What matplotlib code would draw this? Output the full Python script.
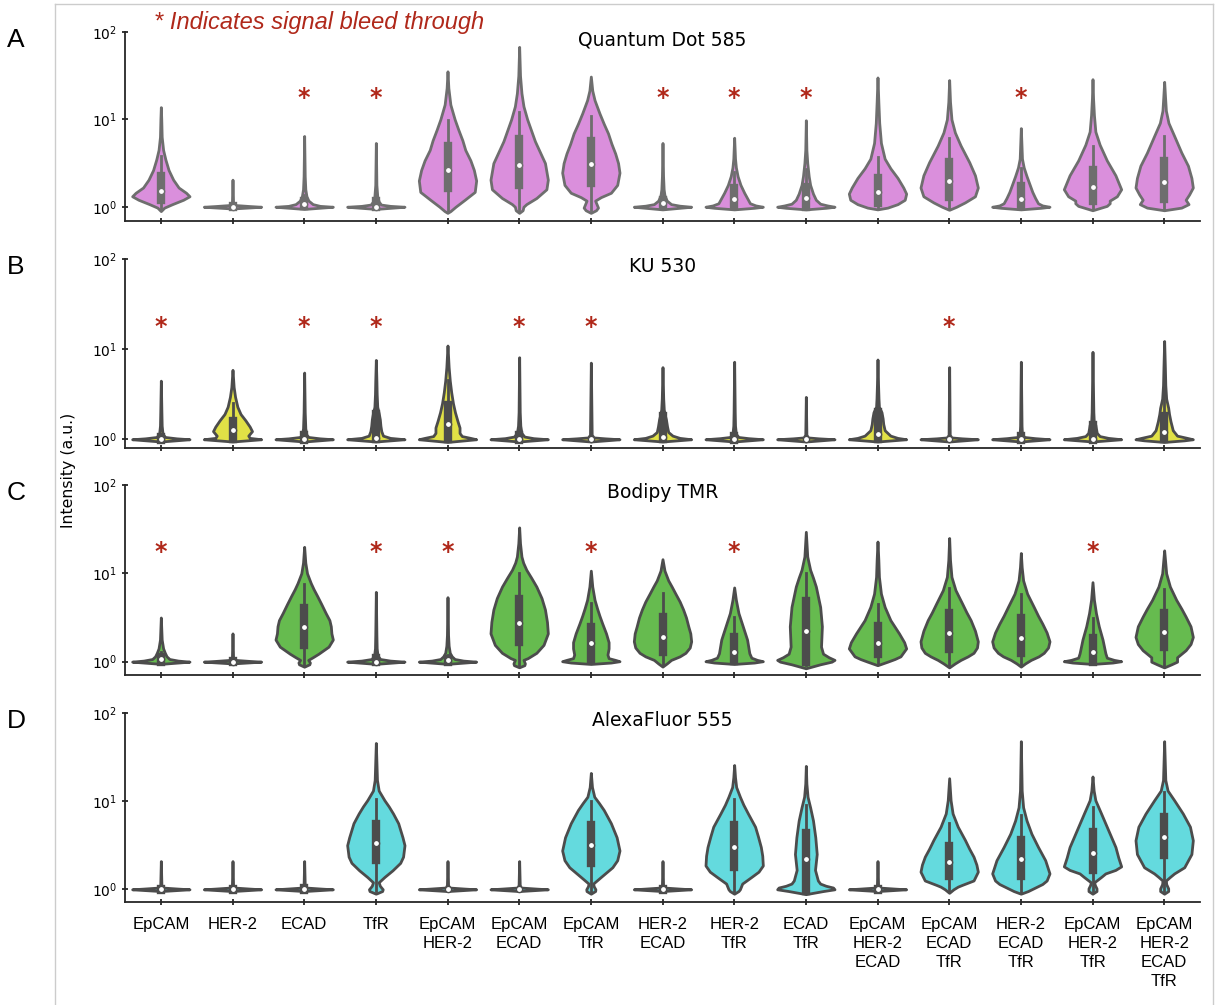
import matplotlib
matplotlib.use("Agg")
import matplotlib.pyplot as plt
import numpy as np
from matplotlib.lines import Line2D
from matplotlib.ticker import NullLocator

categories = ["EpCAM", "HER-2", "ECAD", "TfR", "EpCAM\nHER-2", "EpCAM\nECAD", "EpCAM\nTfR",
              "HER-2\nECAD", "HER-2\nTfR", "ECAD\nTfR", "EpCAM\nHER-2\nECAD", "EpCAM\nECAD\nTfR",
              "HER-2\nECAD\nTfR", "EpCAM\nHER-2\nTfR", "EpCAM\nHER-2\nECAD\nTfR"]
dyes = ["Quantum Dot 585", "KU 530", "Bodipy TMR", "AlexaFluor 555"]
letters = ["A", "B", "C", "D"]
fills = ["#da8fdc", "#e1e146", "#66bb4f", "#64dade"]
edges = ["#6e6e6e", "#4c4c4c", "#4c4c4c", "#4c4c4c"]
bleed = [[2, 3, 7, 8, 9, 12], [0, 2, 3, 5, 6, 11], [0, 3, 4, 6, 8, 13], []]
ybottom = [10 ** -0.163, 10 ** -0.097, 10 ** -0.151, 10 ** -0.144]

# violin outlines: (log10 intensity, relative half width)
shapes_qd = [
    [(-0.05, 0), (-0.01, 0.12), (0.03, 0.4), (0.08, 0.78), (0.12, 1.0), (0.16, 0.88), (0.22, 0.62), (0.31, 0.43), (0.42, 0.27), (0.54, 0.16), (0.65, 0.08), (0.8, 0.03), (1.0, 0.015), (1.14, 0)],
    [(-0.02, 0), (-0.008, 0.6), (0, 1.0), (0.008, 0.6), (0.02, 0.08), (0.05, 0.02), (0.31, 0)],
    [(-0.025, 0), (-0.01, 0.6), (0, 1.0), (0.01, 0.55), (0.03, 0.3), (0.07, 0.15), (0.12, 0.08), (0.2, 0.04), (0.35, 0.02), (0.81, 0)],
    [(-0.025, 0), (-0.01, 0.6), (0, 1.0), (0.01, 0.5), (0.025, 0.18), (0.06, 0.1), (0.12, 0.05), (0.25, 0.02), (0.73, 0)],
    [(-0.07, 0), (-0.05, 0.1), (0, 0.28), (0.08, 0.6), (0.17, 0.95), (0.3, 1.0), (0.42, 0.92), (0.53, 0.8), (0.65, 0.62), (0.76, 0.52), (0.88, 0.38), (1.0, 0.25), (1.17, 0.1), (1.36, 0.03), (1.55, 0)],
    [(-0.07, 0), (-0.04, 0.12), (0, 0.15), (0.03, 0.25), (0.1, 0.6), (0.2, 0.95), (0.31, 1.0), (0.5, 0.9), (0.75, 0.55), (1.0, 0.28), (1.15, 0.15), (1.3, 0.08), (1.5, 0.03), (1.83, 0)],
    [(-0.07, 0), (-0.04, 0.18), (-0.01, 0.25), (0.03, 0.2), (0.07, 0.15), (0.11, 0.35), (0.16, 0.7), (0.25, 0.92), (0.39, 1.0), (0.5, 0.95), (0.61, 0.85), (0.72, 0.72), (0.84, 0.6), (0.95, 0.45), (1.07, 0.3), (1.22, 0.13), (1.33, 0.05), (1.49, 0)],
    [(-0.03, 0), (-0.012, 0.6), (0, 1.0), (0.012, 0.6), (0.03, 0.3), (0.07, 0.15), (0.13, 0.07), (0.2, 0.04), (0.35, 0.02), (0.73, 0)],
    [(-0.03, 0), (-0.012, 0.7), (0, 1.0), (0.015, 0.75), (0.04, 0.55), (0.1, 0.45), (0.16, 0.35), (0.25, 0.22), (0.35, 0.12), (0.45, 0.06), (0.55, 0.03), (0.79, 0)],
    [(-0.03, 0), (-0.012, 0.7), (0, 1.0), (0.015, 0.75), (0.035, 0.5), (0.08, 0.35), (0.15, 0.25), (0.25, 0.15), (0.35, 0.1), (0.5, 0.05), (0.65, 0.02), (0.99, 0)],
    [(-0.03, 0), (-0.01, 0.35), (0.03, 0.7), (0.08, 0.95), (0.15, 1.0), (0.22, 0.9), (0.33, 0.7), (0.44, 0.45), (0.55, 0.25), (0.73, 0.12), (0.96, 0.06), (1.2, 0.03), (1.48, 0)],
    [(-0.035, 0), (0, 0.25), (0.05, 0.55), (0.12, 0.9), (0.22, 1.0), (0.36, 0.9), (0.51, 0.7), (0.7, 0.4), (0.85, 0.2), (1.0, 0.08), (1.2, 0.03), (1.45, 0)],
    [(-0.03, 0), (-0.012, 0.7), (0, 1.0), (0.015, 0.75), (0.04, 0.6), (0.1, 0.5), (0.17, 0.4), (0.26, 0.3), (0.35, 0.2), (0.45, 0.1), (0.55, 0.04), (0.9, 0)],
    [(-0.04, 0), (-0.02, 0.2), (0.01, 0.5), (0.04, 0.6), (0.07, 0.6), (0.12, 0.85), (0.2, 1.0), (0.36, 0.8), (0.53, 0.5), (0.71, 0.25), (0.86, 0.1), (1.05, 0.05), (1.24, 0.02), (1.46, 0)],
    [(-0.04, 0), (-0.01, 0.6), (0.03, 0.85), (0.08, 0.75), (0.14, 0.87), (0.22, 1.0), (0.33, 0.95), (0.47, 0.83), (0.62, 0.6), (0.81, 0.35), (0.96, 0.15), (1.1, 0.06), (1.26, 0.03), (1.43, 0)],
]
shapes_ku = [
    [(-0.025, 0), (-0.01, 0.6), (0, 1.0), (0.01, 0.55), (0.025, 0.15), (0.06, 0.06), (0.15, 0.03), (0.3, 0.02), (0.65, 0)],
    [(-0.025, 0), (-0.01, 0.6), (0, 1.0), (0.015, 0.6), (0.04, 0.55), (0.09, 0.68), (0.14, 0.6), (0.21, 0.45), (0.28, 0.28), (0.36, 0.17), (0.47, 0.09), (0.58, 0.04), (0.77, 0)],
    [(-0.025, 0), (-0.01, 0.6), (0, 1.0), (0.01, 0.55), (0.025, 0.15), (0.05, 0.08), (0.12, 0.04), (0.3, 0.02), (0.74, 0)],
    [(-0.025, 0), (-0.01, 0.6), (0, 1.0), (0.015, 0.5), (0.04, 0.25), (0.09, 0.19), (0.15, 0.16), (0.22, 0.14), (0.29, 0.1), (0.36, 0.05), (0.5, 0.03), (0.65, 0.02), (0.88, 0)],
    [(-0.03, 0), (-0.012, 0.6), (0, 1.0), (0.015, 0.8), (0.035, 0.5), (0.07, 0.42), (0.13, 0.42), (0.2, 0.35), (0.3, 0.26), (0.4, 0.19), (0.52, 0.13), (0.65, 0.08), (0.8, 0.04), (1.04, 0)],
    [(-0.025, 0), (-0.01, 0.6), (0, 1.0), (0.012, 0.5), (0.03, 0.18), (0.07, 0.08), (0.15, 0.04), (0.3, 0.02), (0.91, 0)],
    [(-0.025, 0), (-0.01, 0.6), (0, 1.0), (0.01, 0.5), (0.02, 0.1), (0.05, 0.03), (0.85, 0)],
    [(-0.025, 0), (-0.01, 0.6), (0, 1.0), (0.015, 0.6), (0.04, 0.35), (0.08, 0.2), (0.14, 0.16), (0.22, 0.12), (0.27, 0.08), (0.33, 0.045), (0.45, 0.025), (0.8, 0)],
    [(-0.025, 0), (-0.01, 0.6), (0, 1.0), (0.012, 0.5), (0.025, 0.15), (0.06, 0.06), (0.15, 0.03), (0.3, 0.02), (0.86, 0)],
    [(-0.025, 0), (-0.01, 0.6), (0, 1.0), (0.01, 0.45), (0.02, 0.08), (0.05, 0.02), (0.47, 0)],
    [(-0.025, 0), (-0.01, 0.6), (0, 1.0), (0.015, 0.7), (0.04, 0.45), (0.1, 0.25), (0.17, 0.2), (0.23, 0.18), (0.3, 0.14), (0.36, 0.05), (0.45, 0.035), (0.6, 0.02), (0.885, 0)],
    [(-0.025, 0), (-0.01, 0.6), (0, 1.0), (0.01, 0.45), (0.02, 0.08), (0.05, 0.02), (0.8, 0)],
    [(-0.025, 0), (-0.01, 0.6), (0, 1.0), (0.012, 0.5), (0.025, 0.12), (0.06, 0.04), (0.15, 0.025), (0.86, 0)],
    [(-0.025, 0), (-0.01, 0.6), (0, 1.0), (0.015, 0.55), (0.035, 0.25), (0.07, 0.15), (0.12, 0.12), (0.16, 0.1), (0.2, 0.045), (0.3, 0.03), (0.5, 0.02), (0.97, 0)],
    [(-0.03, 0), (-0.012, 0.7), (0, 1.0), (0.015, 0.8), (0.04, 0.45), (0.1, 0.3), (0.2, 0.22), (0.28, 0.17), (0.35, 0.14), (0.45, 0.07), (0.6, 0.04), (0.8, 0.025), (1.09, 0)],
]
shapes_bodipy = [
    [(-0.025, 0), (-0.01, 0.6), (0, 1.0), (0.012, 0.6), (0.03, 0.3), (0.06, 0.2), (0.1, 0.14), (0.15, 0.08), (0.25, 0.03), (0.5, 0)],
    [(-0.02, 0), (-0.008, 0.6), (0, 1.0), (0.008, 0.6), (0.02, 0.08), (0.05, 0.02), (0.32, 0)],
    [(-0.057, 0), (-0.03, 0.18), (-0.01, 0.2), (0.02, 0.14), (0.05, 0.3), (0.09, 0.5), (0.17, 0.85), (0.25, 1.0), (0.32, 0.95), (0.4, 0.93), (0.47, 0.88), (0.55, 0.75), (0.65, 0.6), (0.74, 0.46), (0.82, 0.33), (0.89, 0.23), (1.0, 0.1), (1.12, 0.04), (1.3, 0)],
    [(-0.025, 0), (-0.01, 0.6), (0, 1.0), (0.012, 0.5), (0.03, 0.15), (0.07, 0.06), (0.15, 0.03), (0.3, 0.02), (0.79, 0)],
    [(-0.025, 0), (-0.01, 0.6), (0, 1.0), (0.012, 0.55), (0.03, 0.25), (0.06, 0.15), (0.1, 0.08), (0.18, 0.04), (0.3, 0.02), (0.73, 0)],
    [(-0.064, 0), (-0.04, 0.18), (-0.02, 0.2), (0.02, 0.15), (0.04, 0.3), (0.1, 0.6), (0.19, 0.85), (0.32, 1.0), (0.45, 0.97), (0.59, 0.9), (0.72, 0.78), (0.85, 0.6), (0.95, 0.42), (1.04, 0.25), (1.12, 0.14), (1.19, 0.08), (1.34, 0.03), (1.52, 0)],
    [(-0.026, 0), (-0.01, 0.7), (0.005, 1.0), (0.02, 0.85), (0.04, 0.62), (0.08, 0.58), (0.15, 0.62), (0.22, 0.62), (0.32, 0.53), (0.43, 0.4), (0.52, 0.3), (0.6, 0.22), (0.7, 0.13), (0.85, 0.05), (1.03, 0)],
    [(-0.056, 0), (-0.02, 0.15), (0.02, 0.3), (0.06, 0.6), (0.1, 0.8), (0.16, 0.95), (0.23, 1.0), (0.32, 0.97), (0.4, 0.9), (0.5, 0.82), (0.59, 0.72), (0.68, 0.6), (0.77, 0.45), (0.85, 0.32), (0.92, 0.2), (1.03, 0.07), (1.16, 0)],
    [(-0.026, 0), (-0.01, 0.7), (0.005, 1.0), (0.02, 0.8), (0.045, 0.6), (0.095, 0.53), (0.25, 0.45), (0.4, 0.3), (0.55, 0.15), (0.7, 0.06), (0.84, 0)],
    [(-0.075, 0), (-0.03, 0.5), (0.0, 0.9), (0.02, 1.0), (0.05, 0.8), (0.09, 0.6), (0.17, 0.53), (0.4, 0.56), (0.62, 0.5), (0.85, 0.35), (0.95, 0.25), (1.04, 0.15), (1.19, 0.05), (1.47, 0)],
    [(-0.04, 0), (0.0, 0.35), (0.03, 0.6), (0.06, 0.8), (0.15, 1.0), (0.22, 0.93), (0.32, 0.75), (0.47, 0.45), (0.62, 0.25), (0.77, 0.12), (0.96, 0.05), (1.15, 0.03), (1.36, 0)],
    [(-0.065, 0), (-0.02, 0.2), (0.02, 0.4), (0.06, 0.65), (0.1, 0.85), (0.16, 0.97), (0.23, 1.0), (0.35, 0.9), (0.47, 0.75), (0.56, 0.6), (0.66, 0.45), (0.81, 0.22), (0.96, 0.08), (1.15, 0.03), (1.4, 0)],
    [(-0.056, 0), (-0.02, 0.15), (0.02, 0.35), (0.06, 0.62), (0.1, 0.8), (0.16, 0.95), (0.23, 1.0), (0.33, 0.9), (0.43, 0.75), (0.52, 0.6), (0.62, 0.45), (0.77, 0.22), (0.92, 0.08), (1.07, 0.03), (1.23, 0)],
    [(-0.026, 0), (-0.01, 0.7), (0.005, 1.0), (0.02, 0.75), (0.045, 0.5), (0.095, 0.45), (0.25, 0.35), (0.4, 0.22), (0.55, 0.12), (0.7, 0.05), (0.9, 0)],
    [(-0.065, 0), (-0.03, 0.25), (0.0, 0.45), (0.05, 0.45), (0.09, 0.6), (0.13, 0.75), (0.2, 0.92), (0.28, 1.0), (0.4, 0.92), (0.51, 0.75), (0.6, 0.6), (0.7, 0.42), (0.85, 0.2), (1.0, 0.07), (1.15, 0.03), (1.26, 0)],
]
shapes_alexa = [
    [(-0.02, 0), (-0.008, 0.6), (0, 1.0), (0.008, 0.6), (0.02, 0.06), (0.05, 0.02), (0.32, 0)],
    [(-0.02, 0), (-0.008, 0.6), (0, 1.0), (0.008, 0.6), (0.02, 0.06), (0.05, 0.02), (0.32, 0)],
    [(-0.02, 0), (-0.008, 0.6), (0, 1.0), (0.008, 0.6), (0.02, 0.06), (0.05, 0.02), (0.32, 0)],
    [(-0.05, 0), (-0.02, 0.22), (0.0, 0.24), (0.04, 0.14), (0.08, 0.1), (0.14, 0.3), (0.215, 0.58), (0.3, 0.85), (0.37, 0.95), (0.5, 1.0), (0.59, 0.93), (0.75, 0.78), (0.86, 0.6), (0.94, 0.45), (1.01, 0.3), (1.12, 0.1), (1.24, 0.04), (1.66, 0)],
    [(-0.02, 0), (-0.008, 0.6), (0, 1.0), (0.008, 0.6), (0.02, 0.06), (0.05, 0.02), (0.32, 0)],
    [(-0.02, 0), (-0.008, 0.6), (0, 1.0), (0.008, 0.6), (0.02, 0.06), (0.05, 0.02), (0.32, 0)],
    [(-0.05, 0), (-0.02, 0.15), (0.0, 0.16), (0.035, 0.1), (0.065, 0.08), (0.14, 0.35), (0.25, 0.75), (0.33, 0.92), (0.44, 1.0), (0.59, 0.9), (0.75, 0.7), (0.9, 0.45), (0.98, 0.28), (1.05, 0.12), (1.16, 0.04), (1.32, 0)],
    [(-0.02, 0), (-0.008, 0.6), (0, 1.0), (0.008, 0.6), (0.02, 0.06), (0.05, 0.02), (0.32, 0)],
    [(-0.05, 0), (-0.02, 0.15), (0.0, 0.2), (0.065, 0.28), (0.14, 0.6), (0.2, 0.85), (0.27, 1.0), (0.38, 0.98), (0.48, 0.93), (0.6, 0.83), (0.71, 0.73), (0.86, 0.48), (0.96, 0.32), (1.05, 0.2), (1.16, 0.07), (1.27, 0.03), (1.41, 0)],
    [(-0.055, 0), (-0.02, 0.6), (0.0, 1.0), (0.02, 0.95), (0.04, 0.7), (0.065, 0.5), (0.1, 0.42), (0.22, 0.32), (0.4, 0.38), (0.59, 0.33), (0.78, 0.25), (0.93, 0.15), (1.05, 0.06), (1.2, 0.02), (1.4, 0)],
    [(-0.02, 0), (-0.008, 0.6), (0, 1.0), (0.008, 0.6), (0.02, 0.06), (0.05, 0.02), (0.32, 0)],
    [(-0.04, 0), (0.0, 0.15), (0.03, 0.3), (0.05, 0.45), (0.1, 0.85), (0.2, 1.0), (0.28, 0.95), (0.37, 0.85), (0.46, 0.7), (0.56, 0.55), (0.71, 0.3), (0.86, 0.12), (1.01, 0.05), (1.26, 0)],
    [(-0.05, 0), (-0.02, 0.25), (0.02, 0.5), (0.06, 0.75), (0.1, 0.9), (0.18, 1.0), (0.33, 0.85), (0.48, 0.6), (0.63, 0.37), (0.78, 0.2), (0.93, 0.08), (1.12, 0.03), (1.68, 0)],
    [(-0.05, 0), (-0.02, 0.14), (0.01, 0.14), (0.05, 0.08), (0.08, 0.06), (0.14, 0.3), (0.18, 0.45), (0.22, 0.8), (0.26, 1.0), (0.36, 0.9), (0.48, 0.8), (0.67, 0.55), (0.86, 0.3), (1.01, 0.1), (1.12, 0.04), (1.28, 0)],
    [(-0.05, 0), (-0.02, 0.14), (0.01, 0.14), (0.06, 0.07), (0.1, 0.06), (0.14, 0.2), (0.18, 0.35), (0.25, 0.7), (0.4, 0.95), (0.556, 1.0), (0.71, 0.9), (0.86, 0.65), (1.01, 0.35), (1.12, 0.12), (1.24, 0.04), (1.68, 0)],
]

# inner box: whisker low, q1, median, q3, whisker high
stats_qd = [(0.95, 1.18, 1.53, 2.22, 3.8), (0.98, 0.99, 1.0, 1.02, 1.05), (0.98, 1.01, 1.07, 1.15, 1.35),
            (0.98, 0.99, 1.0, 1.15, 1.35), (0.9, 1.65, 2.6, 4.9, 9.8), (0.9, 1.78, 2.97, 5.9, 12),
            (0.92, 1.88, 3.1, 5.6, 11), (0.97, 1.02, 1.1, 1.2, 1.45), (0.97, 1.05, 1.23, 1.65, 2.5),
            (0.97, 1.0, 1.27, 1.7, 2.7), (0.95, 1.1, 1.46, 2.15, 3.7), (0.95, 1.31, 1.95, 3.25, 6.1),
            (0.97, 1.05, 1.23, 1.75, 2.8), (0.95, 1.17, 1.69, 2.65, 4.9), (0.95, 1.23, 1.9, 3.3, 6.4)]
stats_ku = [(0.98, 0.98, 1.0, 1.05, 1.1), (0.97, 1.0, 1.26, 1.6, 2.5), (0.98, 0.98, 1.0, 1.12, 1.3),
            (0.98, 1.0, 1.04, 1.9, 3.0), (0.95, 1.0, 1.49, 2.4, 4.5), (0.98, 0.99, 1.0, 1.12, 1.3),
            (1.0, 1.0, 1.0, 1.0, 1.0), (0.98, 1.0, 1.07, 1.8, 2.6), (0.98, 0.98, 1.0, 1.1, 1.25),
            (1.0, 1.0, 1.0, 1.0, 1.0), (0.97, 1.0, 1.14, 2.0, 3.0), (1.0, 1.0, 1.0, 1.0, 1.0),
            (0.98, 0.98, 1.0, 1.08, 1.2), (0.98, 0.99, 1.0, 1.45, 2.0), (0.97, 1.0, 1.2, 1.8, 3.5)]
stats_bodipy = [(0.98, 1.0, 1.06, 1.12, 1.3), (0.98, 0.99, 1.0, 1.02, 1.05), (0.9, 1.55, 2.5, 4.0, 7.5),
                (0.98, 0.99, 1.0, 1.1, 1.25), (0.98, 1.0, 1.04, 1.08, 1.2), (0.9, 1.69, 2.76, 5.1, 10),
                (0.98, 1.07, 1.64, 2.5, 4.6), (0.92, 1.3, 1.92, 3.23, 6), (0.98, 1.02, 1.3, 1.89, 3.2),
                (0.92, 1.0, 2.24, 4.8, 10), (0.95, 1.21, 1.64, 2.56, 4.5), (0.92, 1.38, 2.13, 3.6, 6.9),
                (0.92, 1.24, 1.84, 3.1, 5.8), (0.98, 1.0, 1.29, 1.84, 3.1), (0.92, 1.48, 2.19, 3.6, 6.7)]
stats_alexa = [(0.99, 0.99, 1.0, 1.02, 1.05), (0.99, 0.99, 1.0, 1.02, 1.05), (0.99, 0.99, 1.0, 1.03, 1.05),
               (0.95, 2.14, 3.35, 5.5, 10.5), (1.0, 1.0, 1.0, 1.0, 1.0), (1.0, 1.0, 1.0, 1.0, 1.0),
               (0.95, 1.99, 3.16, 5.3, 10), (0.99, 0.99, 1.0, 1.02, 1.05), (0.95, 1.79, 3.0, 5.3, 10.5),
               (0.92, 0.96, 2.23, 4.3, 9), (0.99, 0.99, 1.0, 1.02, 1.05), (0.95, 1.41, 2.04, 3.1, 5.6),
               (0.93, 1.42, 2.23, 3.6, 6.9), (0.95, 1.67, 2.6, 4.47, 8.6), (0.95, 2.43, 3.9, 6.6, 12.8)]

all_shapes = [shapes_qd, shapes_ku, shapes_bodipy, shapes_alexa]
all_stats = [stats_qd, stats_ku, stats_bodipy, stats_alexa]

# axes boxes in pixels: top, bottom
row_px = [(32, 221), (259, 448), (485, 675), (713, 902)]
W, H = 1225, 1005
ink = "#262626"

fig = plt.figure(figsize=(W / 100, H / 100), dpi=100)

# light frame around the figure
fig.add_artist(Line2D([55 / W, 55 / W], [0, 1 - 4 / H], color="#cccccc", lw=1))
fig.add_artist(Line2D([55 / W, 1213 / W], [1 - 4 / H, 1 - 4 / H], color="#cccccc", lw=1))
fig.add_artist(Line2D([1213 / W, 1213 / W], [0, 1 - 4 / H], color="#cccccc", lw=1))


def draw_violins(ax, shapes, stats, face, edge):
    for i, (shape, st) in enumerate(zip(shapes, stats)):
        t = np.array([p[0] for p in shape])
        w = np.array([p[1] for p in shape])
        lo, q1, med, q3, hi = st
        vp = dict(coords=10 ** t, vals=w, mean=med, median=med, min=10 ** t[0], max=10 ** t[-1])
        parts = ax.violin([vp], positions=[i], widths=0.8, showmeans=False,
                          showextrema=False, showmedians=False)
        for b in parts["bodies"]:
            b.set_facecolor(face)
            b.set_edgecolor(edge)
            b.set_linewidth(2)
            b.set_alpha(1)
            b.set_zorder(1)
        if hi > lo:
            ax.plot([i, i], [lo, hi], color=edge, lw=2, zorder=2)
        if q3 > q1:
            ax.plot([i, i], [q1, q3], color=edge, lw=6, solid_capstyle="projecting", zorder=2)
        ax.scatter([i], [med], s=20, color="white", edgecolor=edge, linewidths=1, zorder=3)


for r in range(4):
    top, bot = row_px[r]
    ax = fig.add_axes([125 / W, 1 - bot / H, 1075 / W, (bot - top) / H])
    ax.set_yscale("log")
    draw_violins(ax, all_shapes[r], all_stats[r], fills[r], edges[r])
    ax.set_xlim(-0.5, 14.5)
    ax.set_ylim(ybottom[r], 100)
    ax.set_yticks([1, 10, 100])
    ax.yaxis.set_minor_locator(NullLocator())
    ax.set_xticks(range(len(categories)))
    for s in ["top", "right"]:
        ax.spines[s].set_visible(False)
    for s in ["left", "bottom"]:
        ax.spines[s].set_color(ink)
        ax.spines[s].set_linewidth(1.3)
    ax.tick_params(axis="x", direction="inout", length=5, width=1.3, color=ink, pad=8)
    ax.tick_params(axis="y", direction="inout", length=5, width=1.3, color=ink, pad=3,
                   labelsize=10, labelcolor="black")
    if r == 3:
        ax.set_xticklabels(categories, fontsize=12, family="Liberation Sans", color="black")
        for lbl in ax.get_xticklabels():
            lbl.set_linespacing(1.35)
    else:
        ax.set_xticklabels([])
    ax.text(0.5, 0.958, dyes[r], transform=ax.transAxes, ha="center", va="center",
            fontsize=13.5, color="black")
    for k in bleed[r]:
        ax.text(k, 17.5, "*", ha="center", va="center", fontsize=17, fontweight="bold",
                color="#b0281a")
    fig.text(7 / W, 1 - (top + 15) / H, letters[r], fontsize=19, family="Liberation Sans",
             va="baseline", ha="left", color="black")

fig.text(154 / W, 1 - 29 / H, "* Indicates signal bleed through", fontsize=17,
         family="Liberation Sans", style="italic", color="#b0281a", va="baseline", ha="left")
fig.text(69 / W, 1 - 470 / H, "Intensity (a.u.)", rotation=90, va="center", ha="center",
         fontsize=11.3, color="black")

fig.savefig("out.png", dpi=100)
